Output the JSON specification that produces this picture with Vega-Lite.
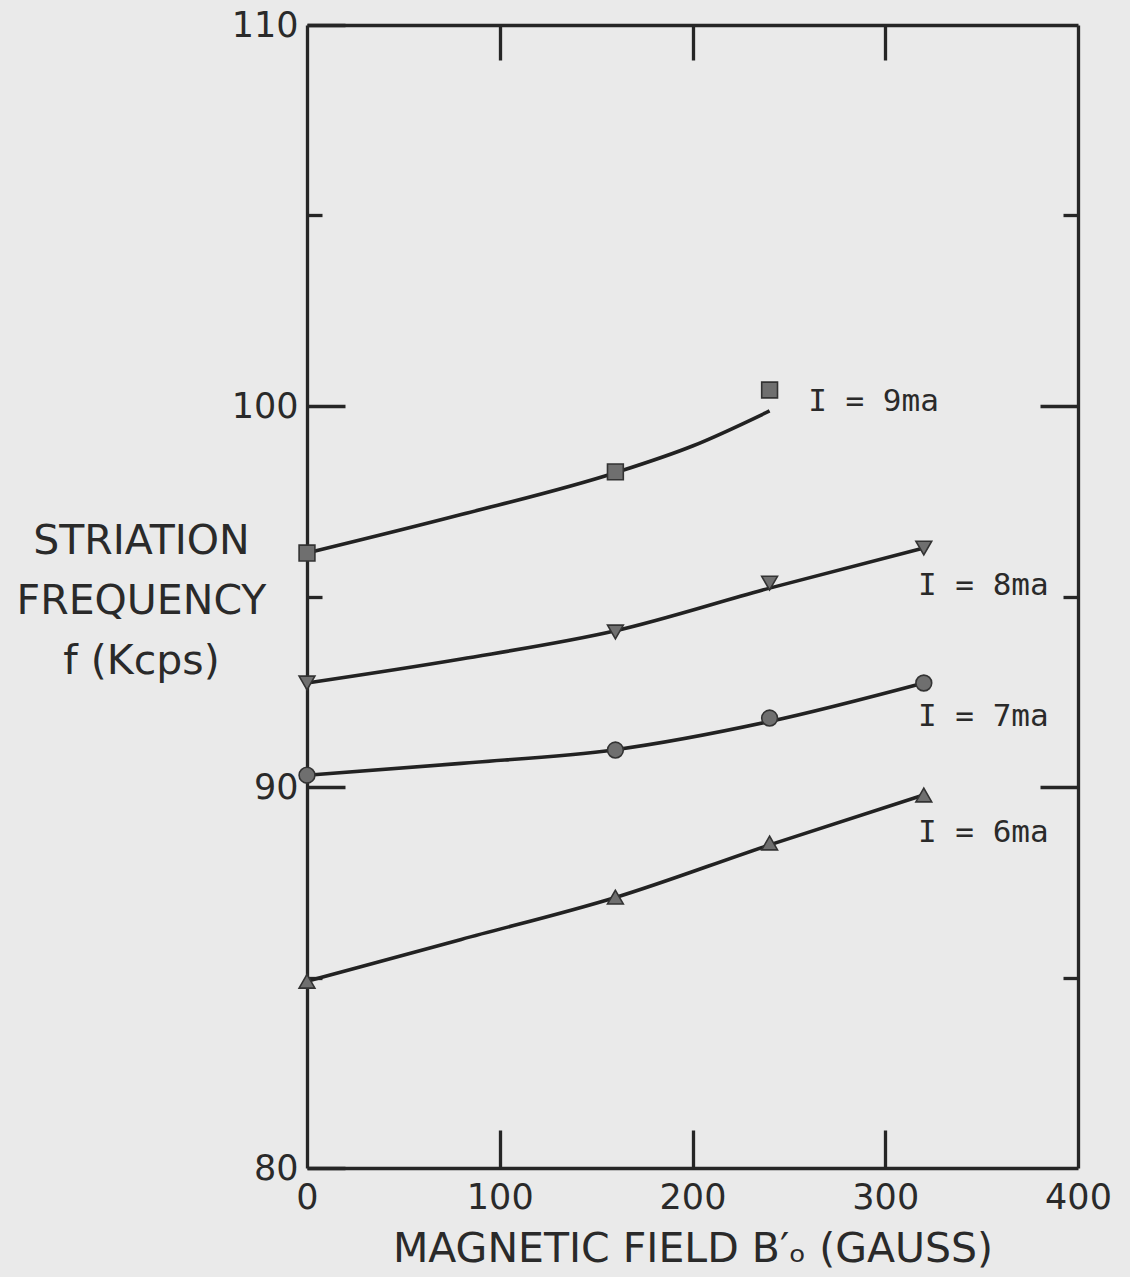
{
  "$schema": "https://vega.github.io/schema/vega-lite/v6.json",
  "width": 771,
  "height": 1143,
  "autosize": {"type": "none"},
  "padding": {"left": 307, "top": 25, "right": 52, "bottom": 109},
  "background": "#eaeaea",
  "config": {
    "view": {"stroke": null},
    "font": "DejaVu Sans",
    "axis": {
      "domainColor": "#262626",
      "domainWidth": 3.3,
      "tickColor": "#262626",
      "tickWidth": 3.3,
      "grid": false,
      "labelFont": "DejaVu Sans",
      "labelFontSize": 35,
      "labelColor": "#2a2a2a",
      "titleFont": "DejaVu Sans",
      "titleFontWeight": "normal",
      "titleColor": "#2a2a2a",
      "titleFontSize": 41
    }
  },
  "datasets": {
    "measured": [
      {"B": 0, "f": 96.14, "I": "9"},
      {"B": 160, "f": 98.27, "I": "9"},
      {"B": 240, "f": 100.42, "I": "9"},
      {"B": 0, "f": 92.73, "I": "8"},
      {"B": 160, "f": 94.07, "I": "8"},
      {"B": 240, "f": 95.35, "I": "8"},
      {"B": 320, "f": 96.27, "I": "8"},
      {"B": 0, "f": 90.31, "I": "7"},
      {"B": 160, "f": 90.97, "I": "7"},
      {"B": 240, "f": 91.81, "I": "7"},
      {"B": 320, "f": 92.73, "I": "7"},
      {"B": 0, "f": 84.9, "I": "6"},
      {"B": 160, "f": 87.11, "I": "6"},
      {"B": 240, "f": 88.53, "I": "6"},
      {"B": 320, "f": 89.79, "I": "6"}
    ],
    "fitted": [
      {"B": 0, "f": 96.14, "I": "9"},
      {"B": 80, "f": 97.15, "I": "9"},
      {"B": 160, "f": 98.25, "I": "9"},
      {"B": 200, "f": 98.95, "I": "9"},
      {"B": 240, "f": 99.87, "I": "9"},
      {"B": 0, "f": 92.73, "I": "8"},
      {"B": 80, "f": 93.36, "I": "8"},
      {"B": 160, "f": 94.1, "I": "8"},
      {"B": 240, "f": 95.22, "I": "8"},
      {"B": 320, "f": 96.27, "I": "8"},
      {"B": 0, "f": 90.31, "I": "7"},
      {"B": 80, "f": 90.62, "I": "7"},
      {"B": 160, "f": 90.98, "I": "7"},
      {"B": 240, "f": 91.72, "I": "7"},
      {"B": 320, "f": 92.73, "I": "7"},
      {"B": 0, "f": 84.9, "I": "6"},
      {"B": 80, "f": 86.0, "I": "6"},
      {"B": 160, "f": 87.1, "I": "6"},
      {"B": 240, "f": 88.48, "I": "6"},
      {"B": 320, "f": 89.79, "I": "6"}
    ],
    "labels": [
      {"B": 260, "f": 100.1, "text": "I = 9ma"},
      {"B": 317, "f": 95.28, "text": "I = 8ma"},
      {"B": 317, "f": 91.84, "text": "I = 7ma"},
      {"B": 317, "f": 88.79, "text": "I = 6ma"}
    ]
  },
  "resolve": {"axis": {"x": "independent", "y": "independent"}},
  "layer": [
    {
      "data": {"name": "fitted"},
      "mark": {"type": "line", "interpolate": "monotone", "color": "#222222", "strokeWidth": 3.6},
      "encoding": {
        "x": {
          "field": "B",
          "type": "quantitative",
          "scale": {"domain": [0, 400], "nice": false},
          "axis": {
            "orient": "bottom",
            "values": [0, 100, 200, 300, 400],
            "tickSize": 0,
            "labelPadding": 12,
            "labelFlush": false,
            "encoding": {"ticks": {"y2": {"condition": {"test": "datum.value > 0 && datum.value < 400", "value": -38}, "value": 0}}},
            "title": "MAGNETIC FIELD B′ₒ (GAUSS)",
            "titlePadding": 14
          }
        },
        "y": {
          "field": "f",
          "type": "quantitative",
          "scale": {"domain": [80, 110], "nice": false, "zero": false},
          "axis": {
            "orient": "left",
            "values": [80, 85, 90, 95, 100, 105, 110],
            "labelExpr": "datum.value % 10 === 0 ? datum.label : ''",
            "tickSize": 0,
            "labelPadding": 9,
            "labelFlush": false,
            "encoding": {"ticks": {"x2": {"condition": {"test": "datum.value % 10 === 0", "value": 38}, "value": 15}}},
            "title": ["STRIATION", "FREQUENCY", "f (Kcps)"],
            "titleAngle": 0,
            "titleAlign": "center",
            "titleBaseline": "middle",
            "titleLineHeight": 60,
            "titleX": -166,
            "titleY": 516
          }
        },
        "detail": {"field": "I"}
      }
    },
    {
      "data": {"name": "measured"},
      "mark": {"type": "point", "filled": true, "size": 250, "fill": "#6f6f6f", "stroke": "#333333", "strokeWidth": 1.6, "opacity": 1},
      "encoding": {
        "x": {
          "field": "B",
          "type": "quantitative",
          "axis": {
            "orient": "top",
            "values": [100, 200, 300],
            "tickSize": -35,
            "labels": false,
            "title": null
          }
        },
        "y": {
          "field": "f",
          "type": "quantitative",
          "axis": {
            "orient": "right",
            "values": [85, 90, 95, 100, 105],
            "tickSize": 0,
            "labels": false,
            "encoding": {"ticks": {"x2": {"condition": {"test": "datum.value % 10 === 0", "value": -38}, "value": -15}}},
            "title": null
          }
        },
        "shape": {
          "field": "I",
          "type": "nominal",
          "scale": {"domain": ["9", "8", "7", "6"], "range": ["square", "triangle-down", "circle", "triangle-up"]},
          "legend": null
        }
      }
    },
    {
      "data": {"name": "labels"},
      "mark": {"type": "text", "font": "DejaVu Sans Mono", "fontSize": 31, "align": "left", "baseline": "middle", "color": "#2a2a2a"},
      "encoding": {
        "x": {"field": "B", "type": "quantitative", "axis": null},
        "y": {"field": "f", "type": "quantitative", "axis": null},
        "text": {"field": "text"}
      }
    }
  ]
}
